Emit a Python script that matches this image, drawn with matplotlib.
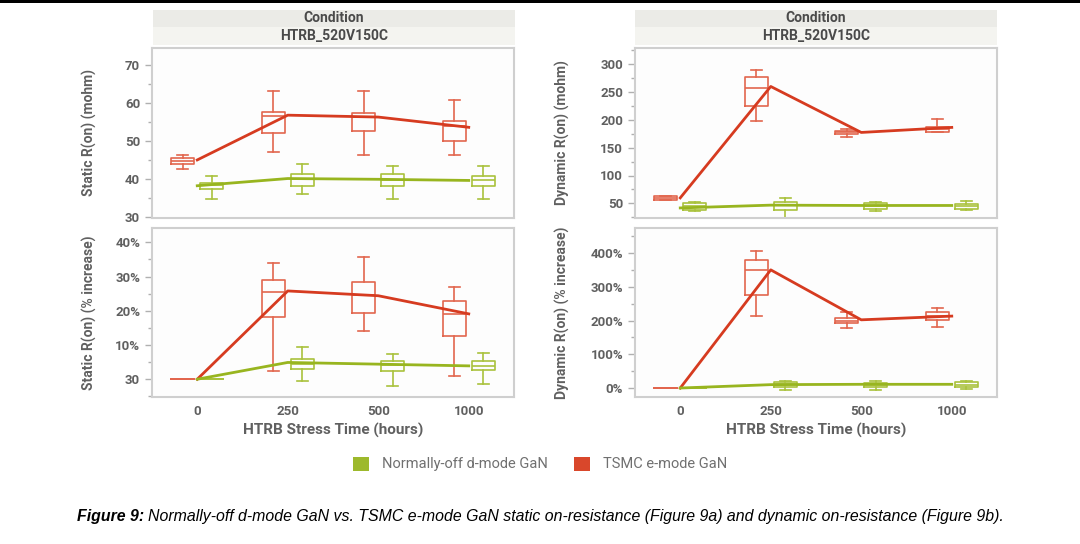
import matplotlib.pyplot as plt
from matplotlib.patches import Patch, Rectangle
from matplotlib.ticker import FixedLocator

W, H = 1080, 544
cats = ["0", "250", "500", "1000"]

# --- Static R(on) (mohm): whisker low, q1, median, q3, whisker high, mean ---
st_red_lo = [42.6, 47.0, 46.4, 46.4]
st_red_q1 = [43.9, 52.2, 52.7, 50.0]
st_red_med = [44.6, 56.6, 56.2, 53.9]
st_red_q3 = [45.4, 57.7, 57.4, 55.3]
st_red_hi = [46.4, 63.1, 63.3, 60.9]
st_red_mean = [45.0, 56.8, 56.3, 53.6]

st_grn_lo = [34.8, 35.9, 34.7, 34.8]
st_grn_q1 = [37.3, 38.2, 38.2, 38.2]
st_grn_med = [38.4, 39.9, 39.7, 39.7]
st_grn_q3 = [39.0, 41.3, 41.3, 40.9]
st_grn_hi = [40.8, 43.8, 43.5, 43.5]
st_grn_mean = [38.2, 40.1, 39.9, 39.6]

# --- Static R(on) (% increase) ---
sp_red_lo = [0, 2.3, 14.2, 1.0]
sp_red_q1 = [0, 18.1, 19.3, 12.7]
sp_red_med = [0, 25.6, 24.5, 19.0]
sp_red_q3 = [0, 28.9, 28.3, 23.0]
sp_red_hi = [0, 34.1, 35.8, 26.9]
sp_red_mean = [0, 25.8, 24.4, 19.1]

sp_grn_lo = [0, -0.4, -2.0, -1.3]
sp_grn_q1 = [0, 2.9, 2.5, 2.6]
sp_grn_med = [0, 4.4, 4.3, 4.0]
sp_grn_q3 = [0, 5.8, 5.4, 5.2]
sp_grn_hi = [0, 9.5, 7.5, 7.8]
sp_grn_mean = [0, 4.9, 4.4, 3.9]

# --- Dynamic R(on) (mohm) ---
dy_red_lo = [55.4, 198, 168, 177]
dy_red_q1 = [55.4, 223.9, 174, 177]
dy_red_med = [59, 256.8, 177, 183]
dy_red_q3 = [63.2, 275.4, 180, 187]
dy_red_hi = [63.2, 288, 183, 201]
dy_red_mean = [60, 259.2, 177, 186]

dy_grn_lo = [37.4, 24.2, 36.2, 38.0]
dy_grn_q1 = [38.0, 39.2, 40.4, 40.4]
dy_grn_med = [45.0, 46.4, 45.0, 45.0]
dy_grn_q3 = [51.0, 52.4, 50.0, 48.8]
dy_grn_hi = [53.0, 59.6, 53.0, 53.6]
dy_grn_mean = [42, 47, 46.4, 46.4]

# --- Dynamic R(on) (% increase) ---
dp_red_lo = [0, 214, 177, 180]
dp_red_q1 = [0, 277, 194, 202]
dp_red_med = [0, 351, 200, 212]
dp_red_q3 = [0, 379, 207, 225]
dp_red_hi = [0, 407, 225, 237]
dp_red_mean = [0, 350, 202, 213]

dp_grn_lo = [0, -5, -5, -2]
dp_grn_q1 = [0, 3, 3, 3]
dp_grn_med = [0, 11, 10, 10]
dp_grn_q3 = [0, 18, 16, 17]
dp_grn_hi = [0, 21, 21, 22]
dp_grn_mean = [0, 10, 11, 11]

RED_BOX, RED_LINE = "#e2664e", "#d63b20"
GRN_BOX, GRN_LINE = "#a9c23c", "#98b51f"
FRAME = "#cfcfcf"
TXT = "#606060"

plt.rcParams["font.family"] = ["Roboto", "DejaVu Sans"]

fig = plt.figure(figsize=(W / 100, H / 100), dpi=100)


def px_axes(x0, y0, x1, y1):
    return fig.add_axes([x0 / W, 1 - y1 / H, (x1 - x0) / W, (y1 - y0) / H])


def stats(lo, q1, med, q3, hi):
    return [dict(whislo=a, q1=b, med=c, q3=d, whishi=e, fliers=[])
            for a, b, c, d, e in zip(lo, q1, med, q3, hi)]


def draw_series(ax, st, mean, color, lcolor, off):
    pos = [i + off for i in range(len(st))]
    kw = dict(color=color, linewidth=1.2)
    ax.bxp(st, positions=pos, widths=0.25, showfliers=False,
           boxprops=kw, whiskerprops=kw, capprops=kw, medianprops=kw,
           manage_ticks=False)
    ax.plot(range(len(mean)), mean, color=lcolor, linewidth=2, zorder=5)


def panel(ax, red, green, ylim, majors, labels, minors, ylabel, bottom):
    draw_series(ax, stats(*red[:5]), red[5], RED_BOX, RED_LINE, -0.16)
    draw_series(ax, stats(*green[:5]), green[5], GRN_BOX, GRN_LINE, 0.16)
    ax.set_xlim(-0.5, 3.5)
    ax.set_ylim(*ylim)
    ax.yaxis.set_major_locator(FixedLocator(majors))
    ax.set_yticklabels(labels)
    ax.yaxis.set_minor_locator(FixedLocator(minors))
    ax.tick_params(axis="y", which="both", colors="#b0b0b0", labelcolor=TXT,
                   labelsize=9.5, width=1)
    ax.tick_params(axis="y", which="major", length=5)
    ax.tick_params(axis="y", which="minor", length=3)
    for lab in ax.get_yticklabels():
        lab.set_fontweight("bold")
    ax.set_ylabel(ylabel, fontsize=10, fontweight="bold", color=TXT)
    ax.set_xticks(range(4))
    if bottom:
        ax.set_xticklabels(cats, fontsize=9.5, fontweight="bold", color=TXT)
        ax.tick_params(axis="x", length=0, pad=6)
        ax.set_xlabel("HTRB Stress Time (hours)", fontsize=11, fontweight="bold",
                      color=TXT, labelpad=3)
    else:
        ax.tick_params(axis="x", length=0, labelbottom=False)
    for s in ax.spines.values():
        s.set_color(FRAME)
        s.set_linewidth(1.5)
    ax.set_facecolor("#fdfdfd")


def strip(x0, x1):
    for (y0, y1, txt, bg) in [(10, 27, "Condition", "#ebebe7"),
                               (27, 45, "HTRB_520V150C", "#f4f4f0")]:
        a = px_axes(x0, y0, x1, y1)
        a.set_facecolor(bg)
        a.set_xticks([])
        a.set_yticks([])
        for s in a.spines.values():
            s.set_visible(False)
        a.text(0.5, 0.5, txt, ha="center", va="center", fontsize=10,
               fontweight="bold", color="#4a4a4a", transform=a.transAxes)


# left column
strip(153, 515)
ax1 = px_axes(152, 48, 514, 218)
panel(ax1,
      [st_red_lo, st_red_q1, st_red_med, st_red_q3, st_red_hi, st_red_mean],
      [st_grn_lo, st_grn_q1, st_grn_med, st_grn_q3, st_grn_hi, st_grn_mean],
      (29.7, 74.5), [30, 40, 50, 60, 70], ["30", "40", "50", "60", "70"],
      [35, 45, 55, 65], "Static R(on) (mohm)", False)
ax2 = px_axes(152, 228, 514, 397)
panel(ax2,
      [sp_red_lo, sp_red_q1, sp_red_med, sp_red_q3, sp_red_hi, sp_red_mean],
      [sp_grn_lo, sp_grn_q1, sp_grn_med, sp_grn_q3, sp_grn_hi, sp_grn_mean],
      (-5.2, 44.2), [0, 10, 20, 30, 40], ["30", "10%", "20%", "30%", "40%"],
      [-5, 5, 15, 25, 35], "Static R(on) (% increase)", True)

# right column
strip(635, 997)
ax3 = px_axes(635, 48, 997, 218)
panel(ax3,
      [dy_red_lo, dy_red_q1, dy_red_med, dy_red_q3, dy_red_hi, dy_red_mean],
      [dy_grn_lo, dy_grn_q1, dy_grn_med, dy_grn_q3, dy_grn_hi, dy_grn_mean],
      (24, 328), [50, 100, 150, 200, 250, 300],
      ["50", "100", "150", "200", "250", "300"],
      [25, 75, 125, 175, 225, 275, 325], "Dynamic R(on) (mohm)", False)
ax4 = px_axes(635, 228, 997, 397)
panel(ax4,
      [dp_red_lo, dp_red_q1, dp_red_med, dp_red_q3, dp_red_hi, dp_red_mean],
      [dp_grn_lo, dp_grn_q1, dp_grn_med, dp_grn_q3, dp_grn_hi, dp_grn_mean],
      (-26.6, 474), [0, 100, 200, 300, 400],
      ["0%", "100%", "200%", "300%", "400%"],
      [50, 150, 250, 350, 450], "Dynamic R(on) (% increase)", True)

# y labels placed at the reference's x positions
for a in (ax1, ax2):
    a.yaxis.set_label_coords((97 - 152) / 362, 0.5)
for a in (ax3, ax4):
    a.yaxis.set_label_coords((570 - 635) / 362, 0.5)

# legend
handles = [Patch(facecolor="#9db92c", edgecolor="none", label="Normally-off d-mode GaN"),
           Patch(facecolor="#d9472b", edgecolor="none", label="TSMC e-mode GaN")]
fig.legend(handles=handles, loc="center", bbox_to_anchor=(0.5, 1 - 464 / H),
           ncol=2, frameon=False, fontsize=10.5, handlelength=1.1, handleheight=1.1,
           columnspacing=1.8, handletextpad=0.9, labelcolor="#707070")

# top black rule
fig.add_artist(Rectangle((0, 1 - 3 / H), 1, 3 / H, transform=fig.transFigure,
                         facecolor="black", edgecolor="none"))

# caption
cap_y = 1 - 517 / H
t1 = fig.text(77 / W, cap_y, "Figure 9:", fontsize=11.4, fontweight="bold",
              fontstyle="italic", family="Liberation Sans", va="center")
fig.canvas.draw()
bb = t1.get_window_extent()
fig.text(bb.x1 / W + 4 / W, cap_y,
         "Normally-off d-mode GaN vs. TSMC e-mode GaN static on-resistance "
         "(Figure 9a) and dynamic on-resistance (Figure 9b).",
         fontsize=11.4, fontstyle="italic", family="Liberation Sans", va="center")

fig.savefig("out.png", dpi=100)
